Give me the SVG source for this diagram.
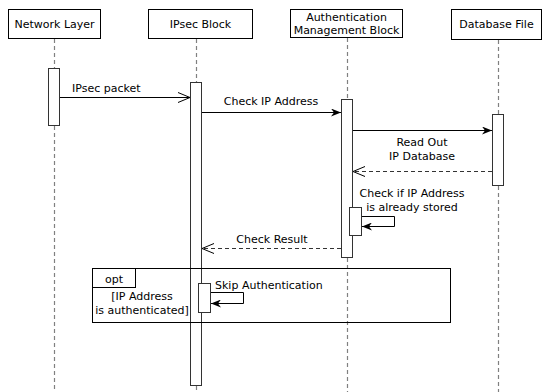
<svg xmlns="http://www.w3.org/2000/svg" width="544" height="392" viewBox="0 0 544 392">
  <style>
    text { font-family: "DejaVu Sans", Verdana, sans-serif; font-size: 11px; fill: #000; }
    .mid { text-anchor: middle; }
    .head { fill: #fff; stroke: #000; stroke-width: 1; }
    .life { stroke: #808080; stroke-width: 1.2; stroke-dasharray: 4 3; fill: none; }
    .act { fill: #fff; stroke: #333; stroke-width: 1; }
    .msg { stroke: #000; stroke-width: 1; fill: none; }
    .ret { stroke: #333; stroke-width: 1; fill: none; stroke-dasharray: 4 3; }
    .frame { fill: none; stroke: #000; stroke-width: 1; }
  </style>
  <defs>
    <marker id="filled" markerUnits="userSpaceOnUse" markerWidth="10" markerHeight="8" refX="10" refY="4" orient="auto">
      <path d="M0,0 L10,4 L0,8 L3,4 Z" fill="#000"/>
    </marker>
    <marker id="open" markerUnits="userSpaceOnUse" markerWidth="14" markerHeight="12" refX="12.5" refY="5.5" orient="auto">
      <path d="M0.5,0.5 L12.5,5.5 L0.5,10.5" fill="none" stroke="#000" stroke-width="1"/>
    </marker>
  </defs>

  <!-- lifelines -->
  <g id="lifelines">
    <path class="life" d="M54.5,39 V68 M54.5,126 V392"/>
    <path class="life" d="M196.5,39 V82 M196.5,386 V392"/>
    <path class="life" d="M347.5,38 V99 M347.5,258 V392"/>
    <path class="life" d="M498.5,40 V114 M498.5,186 V392"/>
  </g>

  <g id="network-layer">
    <rect class="head" x="8.5" y="9.5" width="92" height="29"/>
    <text class="mid" x="54.5" y="28">Network Layer</text>
    <rect class="act" x="48.5" y="68.5" width="11" height="57"/>
  </g>

  <g id="ipsec-block">
    <rect class="head" x="148.5" y="9.5" width="104" height="29"/>
    <text class="mid" x="200.5" y="28">IPsec Block</text>
    <rect class="act" x="190.5" y="82.5" width="11" height="303"/>
  </g>

  <g id="auth-block">
    <rect class="head" x="290.5" y="9.5" width="112" height="28"/>
    <text class="mid" x="346.5" y="21">Authentication</text>
    <text class="mid" x="346.5" y="33.5">Management Block</text>
    <rect class="act" x="341.5" y="99.5" width="11" height="158"/>
    <rect class="act" x="349.5" y="207.5" width="12" height="28"/>
  </g>

  <g id="database-file">
    <rect class="head" x="451.5" y="9.5" width="90" height="30"/>
    <text class="mid" x="496.5" y="28">Database File</text>
    <rect class="act" x="492.5" y="114.5" width="11" height="71"/>
  </g>

  <g id="opt-fragment">
    <rect class="frame" x="92.5" y="268.5" width="358" height="54"/>
    <rect class="frame" x="92.5" y="268.5" width="43" height="19"/>
    <text class="mid" x="114" y="282.5">opt</text>
    <text class="mid" x="142" y="300">[IP Address</text>
    <text class="mid" x="142" y="314">is authenticated]</text>
    <rect class="act" x="198.5" y="283.5" width="12" height="29"/>
  </g>

  <!-- messages -->
  <g id="connectors">
    <path class="msg" d="M60,97.5 H190" marker-end="url(#open)"/>
    <text x="72" y="92">IPsec packet</text>

    <path class="msg" d="M202,112.5 H341" marker-end="url(#filled)"/>
    <text class="mid" x="271" y="105">Check IP Address</text>

    <path class="msg" d="M353,130.5 H492" marker-end="url(#filled)"/>
    <text class="mid" x="422" y="146">Read Out</text>
    <text class="mid" x="422" y="159.5">IP Database</text>

    <path class="ret" d="M492,171.5 H353" marker-end="url(#open)"/>

    <text class="mid" x="412" y="197">Check if IP Address</text>
    <text class="mid" x="412" y="211">is already stored</text>
    <path class="msg" d="M362,216.5 H394.5 V226.5 H362" marker-end="url(#filled)"/>

    <path class="ret" d="M341,248.5 H202" marker-end="url(#open)"/>
    <text class="mid" x="272" y="243">Check Result</text>

    <text x="215" y="289">Skip Authentication</text>
    <path class="msg" d="M211,292.5 H243.5 V303.5 H211" marker-end="url(#filled)"/>
  </g>
</svg>
